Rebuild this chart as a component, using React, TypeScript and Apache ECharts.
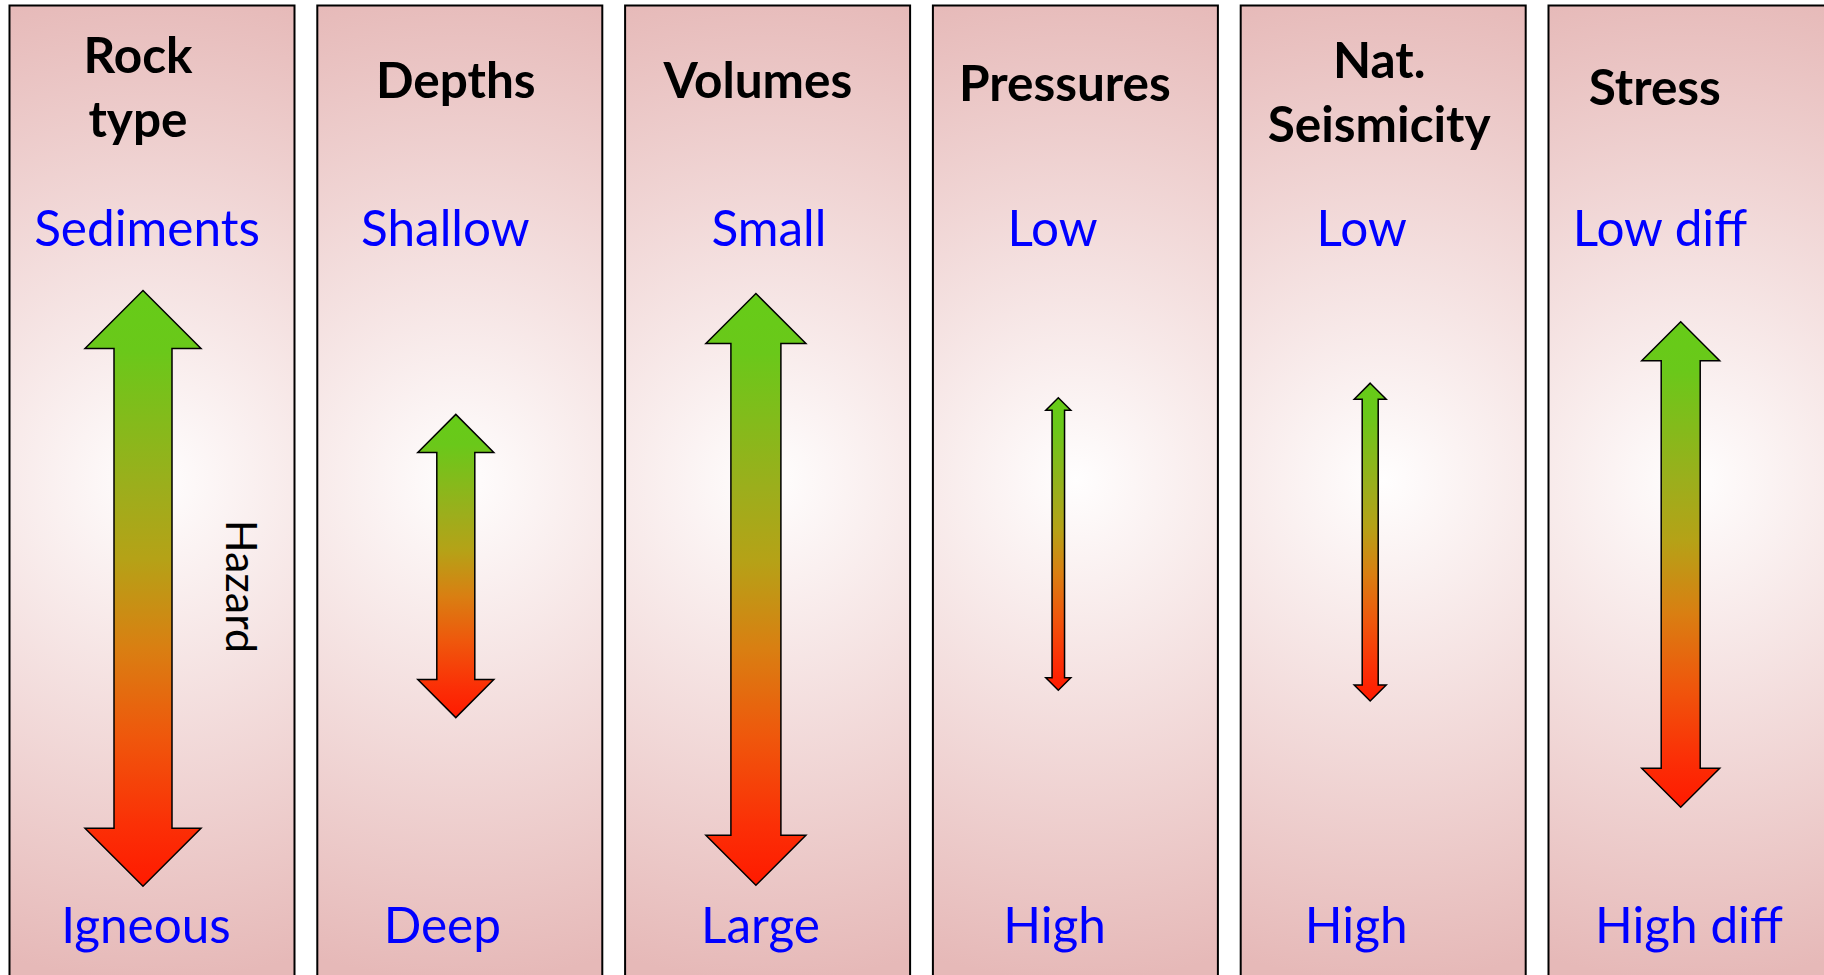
import { useEffect, useRef } from 'react';
import * as echarts from 'echarts';

// ---------- data ----------
const factors = ['Rock\ntype', 'Depths', 'Volumes', 'Pressures', 'Nat.\nSeismicity', 'Stress'];
const lowHazardLabels = ['Sediments', 'Shallow', 'Small', 'Low', 'Low', 'Low diff'];
const highHazardLabels = ['Igneous', 'Deep', 'Large', 'High', 'High', 'High diff'];
// hazard range of each factor on a 0 (top) .. 100 (bottom) scale
const rangeTop = [29.8, 42.5, 30.1, 40.8, 39.3, 33.0];
const rangeBottom = [90.9, 73.6, 90.8, 70.8, 71.9, 82.8];
const hazardAxisLabel = 'Hazard';

// ---------- layout (pixels) ----------
const ARROW_W = [58, 38, 50, 12.5, 16, 39];
const ARROW_DX = [-9, -4, -11.7, -17.1, -13, -10.3];
const TITLE_DX = [-14, -4, -9.7, -10.5, -4, -36.2];
const TITLE_Y = [85.6, 78.6, 78.6, 81.6, 91, 85.6];
const TOP_DX = [-5, -14.5, 1.3, -22.8, -21.5, -31];
const BOTTOM_DX = [-6, -17.5, -7.1, -20.8, -27, -2];
const PANEL_W = 285;
const PANEL_TOP = 5.5;
const TOP_LABEL_Y = 226.5;
const BOTTOM_LABEL_Y = 923.5;
const FONT = 'Lato, "Open Sans", sans-serif';
// panel index range visible across the 1824px width (first panel centre at 152px, pitch 307.8px)
const X_MIN = -0.49383;
const X_MAX = 5.4321;

const arrowStops = [
  { offset: 0, color: '#66cc18' },
  { offset: 0.1, color: '#6ac81a' },
  { offset: 0.33, color: '#9cae1c' },
  { offset: 0.45, color: '#b5a217' },
  { offset: 0.6, color: '#d97f12' },
  { offset: 0.75, color: '#ef570c' },
  { offset: 0.9, color: '#fb2f06' },
  { offset: 1, color: '#ff1a00' },
];

export default function App() {
  const ref = useRef<HTMLDivElement>(null);

  useEffect(() => {
    if (!ref.current) return;
    const chart = echarts.init(ref.current, null, { renderer: 'svg' });

    const data = factors.map((_, i) => [i, rangeTop[i], rangeBottom[i]]);

    const renderItem = (params: any, api: any) => {
      const i = api.value(0) as number;
      const cx = api.coord([i, 0])[0];
      const yTop = api.coord([i, api.value(1)])[1];
      const yBot = api.coord([i, api.value(2)])[1];
      const ax = cx + ARROW_DX[i];
      const w = ARROW_W[i];
      const children: any[] = [];

      children.push({
        type: 'rect',
        shape: { x: cx - PANEL_W / 2, y: PANEL_TOP, width: PANEL_W, height: 1100 },
        style: {
          fill: new echarts.graphic.RadialGradient(
            cx,
            480,
            500,
            [
              { offset: 0, color: '#fffefe' },
              { offset: 1, color: '#e6b9b8' },
            ],
            true
          ),
          stroke: '#000',
          lineWidth: 2,
        },
      });

      const pts = [
        [ax, yTop],
        [ax + w, yTop + w],
        [ax + w / 2, yTop + w],
        [ax + w / 2, yBot - w],
        [ax + w, yBot - w],
        [ax, yBot],
        [ax - w, yBot - w],
        [ax - w / 2, yBot - w],
        [ax - w / 2, yTop + w],
        [ax - w, yTop + w],
      ];
      children.push({
        type: 'polygon',
        shape: { points: pts },
        style: {
          fill: new echarts.graphic.LinearGradient(0, 0, 0, 1, arrowStops),
          stroke: '#000',
          lineWidth: 1.5,
        },
      });

      if (i === 0) {
        children.push({
          type: 'text',
          x: ax + 99,
          y: (yTop + yBot) / 2 - 2,
          rotation: -Math.PI / 2,
          style: {
            text: hazardAxisLabel,
            x: 0,
            y: 0,
            fill: '#000',
            fontFamily: FONT,
            fontSize: 43,
            align: 'center',
            verticalAlign: 'middle',
          },
        });
      }

      children.push({
        type: 'text',
        style: {
          text: factors[i],
          x: cx + TITLE_DX[i],
          y: TITLE_Y[i],
          fill: '#000',
          fontFamily: FONT,
          fontWeight: 'bold',
          fontSize: 49.5,
          lineHeight: 64,
          align: 'center',
          verticalAlign: 'middle',
        },
      });
      children.push({
        type: 'text',
        style: {
          text: lowHazardLabels[i],
          x: cx + TOP_DX[i],
          y: TOP_LABEL_Y,
          fill: '#0000ff',
          fontFamily: FONT,
          fontSize: 49.5,
          align: 'center',
          verticalAlign: 'middle',
        },
      });
      children.push({
        type: 'text',
        style: {
          text: highHazardLabels[i],
          x: cx + BOTTOM_DX[i],
          y: BOTTOM_LABEL_Y,
          fill: '#0000ff',
          fontFamily: FONT,
          fontSize: 49.5,
          align: 'center',
          verticalAlign: 'middle',
        },
      });

      return { type: 'group', children };
    };

    chart.setOption({
      animation: false,
      backgroundColor: '#ffffff',
      grid: { left: 0, top: 0, right: 0, bottom: 0, containLabel: false },
      xAxis: { type: 'value', min: X_MIN, max: X_MAX, show: false },
      yAxis: { type: 'value', min: 0, max: 100, inverse: true, show: false },
      series: [
        {
          type: 'custom',
          clip: false,
          renderItem,
          data,
          encode: { x: 0, y: [1, 2] },
          silent: true,
        },
      ],
    });

    return () => chart.dispose();
  }, []);

  return (
    <div
      ref={ref}
      style={{ position: 'fixed', left: 0, top: 0, width: '1824px', height: '975px', background: '#fff' }}
    />
  );
}
